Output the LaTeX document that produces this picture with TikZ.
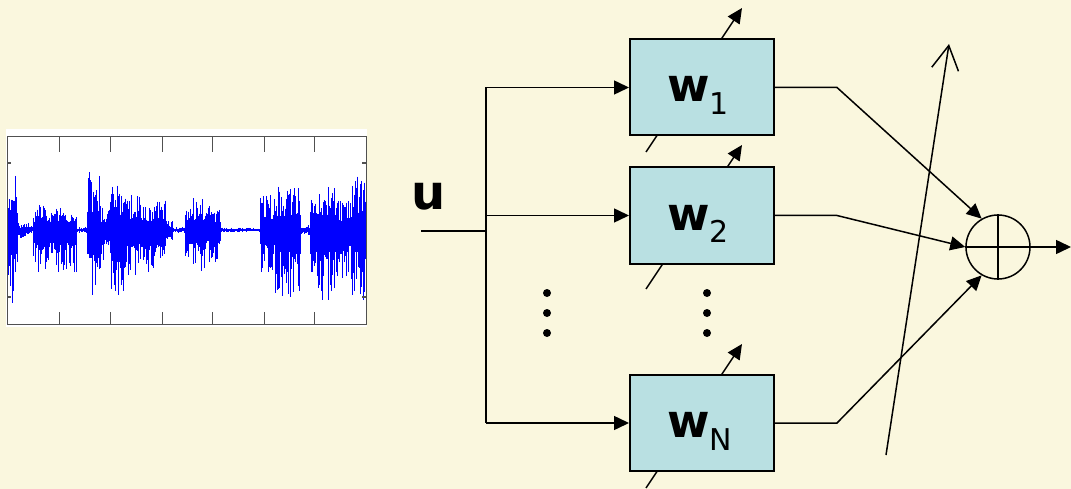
\documentclass[tikz,border=0pt]{standalone}
\usepackage{fontspec}
\setmainfont{DejaVu Sans}
\usetikzlibrary{arrows.meta}
\definecolor{bg}{HTML}{FAF7DE}
\definecolor{boxc}{HTML}{B9E0E2}
\definecolor{wave}{HTML}{0000FF}
\definecolor{frm}{HTML}{505050}
\begin{document}
\begin{tikzpicture}[x=1pt,y=-1pt,
  line/.style={line width=1.5pt},
  tip/.style={-{Triangle[length=15pt,width=14pt]}},
  barb/.style={-{Straight Barb[length=24pt,width=27pt,line width=1.5pt]}},
  wbox/.style={draw, line width=2pt, fill=boxc, minimum width=144pt, minimum height=96pt, inner sep=0pt},
  wlab/.style={anchor=base west, inner sep=0pt},
  dot/.style={fill=black}]
\fill[bg] (0,0) rectangle (1071,489);
\useasboundingbox (0,0) rectangle (1071,489);

% waveform plot
\fill[white] (6,129) rectangle (367,327);
\pgfmathsetseed{5}
\foreach \xa/\xb/\au/\ad in {
7/17/55/80, 17/29/8/8, 29/33/4/4, 33/76/27/43, 76/87/3/3,
87/100/60/80, 100/110/25/30, 110/125/50/65, 125/140/35/45, 140/165/30/45,
165/172/10/12, 172/185/3/3, 185/205/33/43, 205/220/25/35, 220/260/2.5/2.5,
260/275/35/45, 275/300/45/70, 300/310/5/5, 310/335/50/73, 335/352/30/50,
352/365/57/73}{
  \pgfmathsetmacro\xn{\xa+0.5}
  \foreach \x in {\xa,\xn,...,\xb}{
    \pgfmathsetmacro\ampu{\au*(0.3+0.7*rnd^3)}
    \pgfmathsetmacro\ampd{\ad*(0.3+0.7*rnd^3)}
    \draw[wave, line width=0.9pt] (\x,230-\ampu) -- (\x,230+\ampd);
  }
}
\draw[frm, line width=1pt] (7,137) rectangle (366,324);
\foreach \tx in {59,110,162,212,264,314}{
  \draw[frm, line width=1pt] (\tx,137) -- (\tx,152);
  \draw[frm, line width=1pt] (\tx,324) -- (\tx,312);
}
\foreach \ty in {163,297}{
  \draw[frm, line width=2pt] (7,\ty) -- (11,\ty);
  \draw[frm, line width=2pt] (366,\ty) -- (362,\ty);
}

% weight-adjust arrows (behind boxes)
\coordinate (t1a) at (646,152); \coordinate (t1b) at (742,8);
\coordinate (t2a) at (646,289); \coordinate (t2b) at (742,145);
\coordinate (tNa) at (646,488); \coordinate (tNb) at (742,344);
\draw[line,tip] (t1a) -- (t1b);
\draw[line,tip] (t2a) -- (t2b);
\draw[line,tip] (tNa) -- (tNb);

% boxes
\node[wbox] (w1) at (702,87.5) {};
\node[wbox] (w2) at (702,215.5) {};
\node[wbox] (wN) at (702,423) {};
\node[wlab] (w1l) at (667,102) {\fontsize{46}{46}\selectfont\bfseries w\fontsize{30}{30}\selectfont\mdseries\raisebox{-13pt}{1}};
\node[wlab] (w2l) at (667,230) {\fontsize{46}{46}\selectfont\bfseries w\fontsize{30}{30}\selectfont\mdseries\raisebox{-13pt}{2}};
\node[wlab] (wNl) at (667,437) {\fontsize{46}{46}\selectfont\bfseries w\fontsize{30}{30}\selectfont\mdseries\raisebox{-13pt}{N}};

% input distribution
\node[wlab] (ul) at (411,210) {\fontsize{48}{48}\selectfont\bfseries u};
\coordinate (in) at (421,231);
\coordinate (bu) at (486,231);
\coordinate (bt) at (486,87.5);
\coordinate (b2) at (486,215.5);
\coordinate (bb) at (486,423);
\draw[line] (in) -- (bu);
\draw[line] (bt) -- (bb);
\draw[line,tip] (bt) -- (w1.west);
\draw[line,tip] (b2) -- (w2.west);
\draw[line,tip] (bb) -- (wN.west);

% dots
\foreach \dy in {293,313,333}{
  \fill (547,\dy) circle (4);
  \fill (707,\dy) circle (4);
}

% summing junction
\node[circle, draw, line width=1.5pt, minimum size=64pt, inner sep=0pt] (sum) at (998,247) {};
\draw[line] (sum.north) -- (sum.south);
\draw[line] (sum.west) -- (sum.east);
\coordinate (k1) at (837,87.5);
\coordinate (k2) at (837,215.5);
\coordinate (kN) at (837,423);
\draw[line,tip] (w1.east) -- (k1) -- (sum.120);
\draw[line,tip] (w2.east) -- (k2) -- (sum.west);
\draw[line,tip] (wN.east) -- (kN) -- (sum.240);
\coordinate (out) at (1071,247);
\draw[line,tip] (sum.east) -- (out);

% adaptation arrow
\coordinate (aa) at (886,455);
\coordinate (ab) at (949,44);
\draw[line,barb] (aa) -- (ab);
\end{tikzpicture}
\end{document}
